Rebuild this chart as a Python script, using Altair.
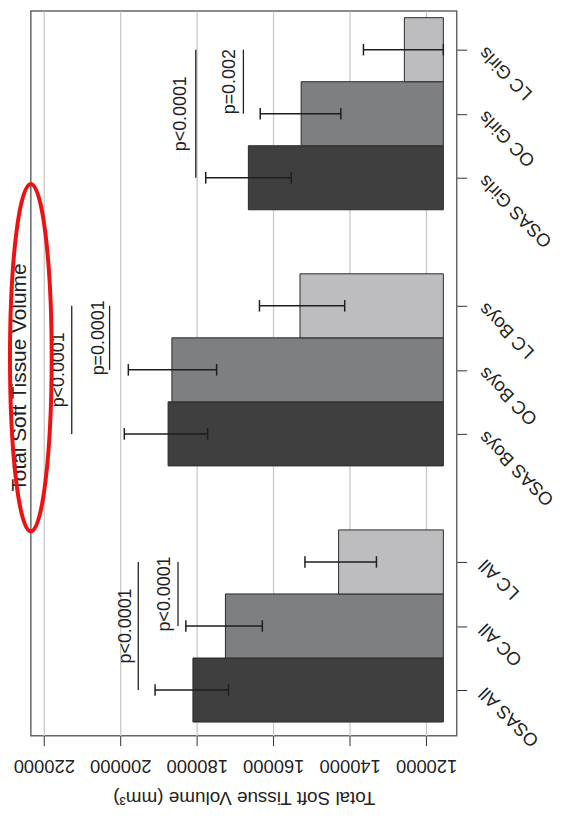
import altair as alt
import pandas as pd

# ---- data read from the (rotated) reference picture ----
groups = ["All", "Boys", "Girls"]
members = ["OSAS", "OC", "LC"]
means = [181000, 172500, 142900, 187500, 186500, 153000, 166500, 152700, 125700]
err_hi = [190900, 182850, 151700, 198950, 197900, 163600, 177650, 163400, 136400]
err_lo = [171700, 162850, 133000, 177150, 174800, 141300, 155300, 142300, 115500]
axis_floor = 115500
tick_values = [120000, 140000, 160000, 180000, 200000, 220000]

# significance brackets (group, from member, to member, line value, label, label value)
brk_group = ["All", "All", "Boys", "Boys", "Girls", "Girls"]
brk_from = ["OSAS", "OC", "OSAS", "OC", "OSAS", "OC"]
brk_to = ["LC", "LC", "LC", "LC", "LC", "LC"]
brk_value = [195300, 184900, 212700, 202800, 180250, 167800]
brk_label = ["p<0.0001", "p<0.0001", "p<0.0001", "p=0.0001", "p<0.0001", "p=0.002"]
brk_label_value = [198600, 188200, 216100, 205600, 184100, 171300]

fills = ["#3f3f3f", "#7e7f81", "#bdbdc0"]

# chart title and the red highlight oval around it (value, slot)
title_text = ["Total Soft Tissue Volume"]
title_value = [226100]
title_slot = [5.88]
oval_value = [223400]
oval_slot = [6.19]

FONT = "Liberation Sans"


def slot(g, m):
    return groups.index(g) * 4 + members.index(m) + 1


rows = []
for gi, g in enumerate(groups):
    for mi, m in enumerate(members):
        k = gi * 3 + mi
        rows.append(dict(label=f"{m} {g}", member=m, pos=slot(g, m),
                         mean=means[k], lo=err_lo[k], hi=err_hi[k], base=axis_floor))
df = pd.DataFrame(rows)

br = pd.DataFrame(dict(
    v=brk_value, lv=brk_label_value, text=brk_label,
    p1=[slot(g, a) for g, a in zip(brk_group, brk_from)],
    p2=[slot(g, b) for g, b in zip(brk_group, brk_to)],
))

oval = pd.DataFrame(dict(v=oval_value, pos=oval_slot))
ttl = pd.DataFrame(dict(v=title_value, pos=title_slot, text=title_text))

label_arr = [""] * 12
for r in rows:
    label_arr[r["pos"]] = r["label"]
label_expr = "[" + ",".join("'" + s + "'" for s in label_arr) + "][datum.value]"

xs = alt.Scale(domain=[112000, 223400], reverse=True, nice=False, zero=False)
ys = alt.Scale(domain=[0.287, 11.605], nice=False, zero=False)

X_TITLE = "Total Soft Tissue Volume (mm³)"
x_axis = alt.Axis(values=tick_values, format="d", labelAngle=180, labelAlign="center",
                  labelBaseline="bottom", tickSize=10, tickColor="#333", domain=False,
                  grid=True, gridColor="#c9c9c9", gridWidth=1.3,
                  labelFontSize=18.5, labelColor="#222", labelPadding=10,
                  title=X_TITLE, titleAngle=180,
                  titleBaseline="bottom", titleFontSize=19, titleFontWeight="normal",
                  titleColor="#222", titlePadding=13, labelFlush=False)
y_axis = alt.Axis(orient="right", values=[r["pos"] for r in rows], labelExpr=label_expr,
                  labelAngle=225, labelAlign="right", labelBaseline="middle",
                  tickSize=10, tickColor="#333", domain=False, grid=False, title=None,
                  labelFontSize=18.5, labelColor="#222", labelPadding=15,
                  labelOverlap=False, labelFlush=False, labelBound=False)


def X(field):
    return alt.X(field, scale=xs, axis=x_axis, title=X_TITLE)


def Y(field):
    return alt.Y(field, scale=ys, axis=y_axis, title=None)


base = alt.Chart(df)

bars = base.transform_calculate(
    y1="datum.pos - 0.5", y2="datum.pos + 0.5"
).mark_bar(stroke="#2a2a2a", strokeWidth=1).encode(
    x=X("mean:Q"),
    x2="base:Q",
    y=Y("y1:Q"),
    y2="y2:Q",
    fill=alt.Fill("member:N", scale=alt.Scale(domain=members, range=fills), legend=None),
)

whisk = base.mark_rule(color="#1e1e1e", strokeWidth=1.5).encode(
    x=X("lo:Q"), x2="hi:Q", y=Y("pos:Q"),
)

caps = base.transform_fold(["lo", "hi"], as_=["end", "val"]).transform_calculate(
    c1="datum.pos - 0.09", c2="datum.pos + 0.09"
).mark_rule(color="#1e1e1e", strokeWidth=1.5).encode(
    x=X("val:Q"), y=Y("c1:Q"), y2="c2:Q",
)

brk = alt.Chart(br).mark_rule(color="#222", strokeWidth=1.3).encode(
    x=X("v:Q"), y=Y("p1:Q"), y2="p2:Q",
)

ptxt = alt.Chart(br).transform_calculate(mid="(datum.p1 + datum.p2) / 2").mark_text(
    angle=270, align="center", baseline="middle", fontSize=18, font=FONT, color="#222"
).encode(
    x=X("lv:Q"), y=Y("mid:Q"), text="text:N",
)

title_mark = alt.Chart(ttl).mark_text(
    angle=270, align="center", baseline="middle", fontSize=21, font=FONT, color="#222",
    clip=False,
).encode(
    x=X("v:Q"), y=Y("pos:Q"), text="text:N",
)

ring = alt.Chart(oval).mark_point(
    shape="M0,-1 A0.12,1 0 1,1 0,1 A0.12,1 0 1,1 0,-1 Z",
    size=122500, filled=False, stroke="#ee1111", strokeWidth=4, opacity=1, clip=False,
).encode(
    x=X("v:Q"), y=Y("pos:Q"),
)

chart = alt.layer(bars, whisk, caps, brk, ptxt, title_mark, ring).properties(
    width=429, height=730,
    autosize=alt.AutoSizeParams(type="none"),
    padding={"left": 23, "top": 0, "right": 101, "bottom": 86},
).configure(font=FONT).configure_view(stroke="#666", strokeWidth=1.5)

chart.save("out.html", embed_options={"renderer": "svg", "actions": False})
